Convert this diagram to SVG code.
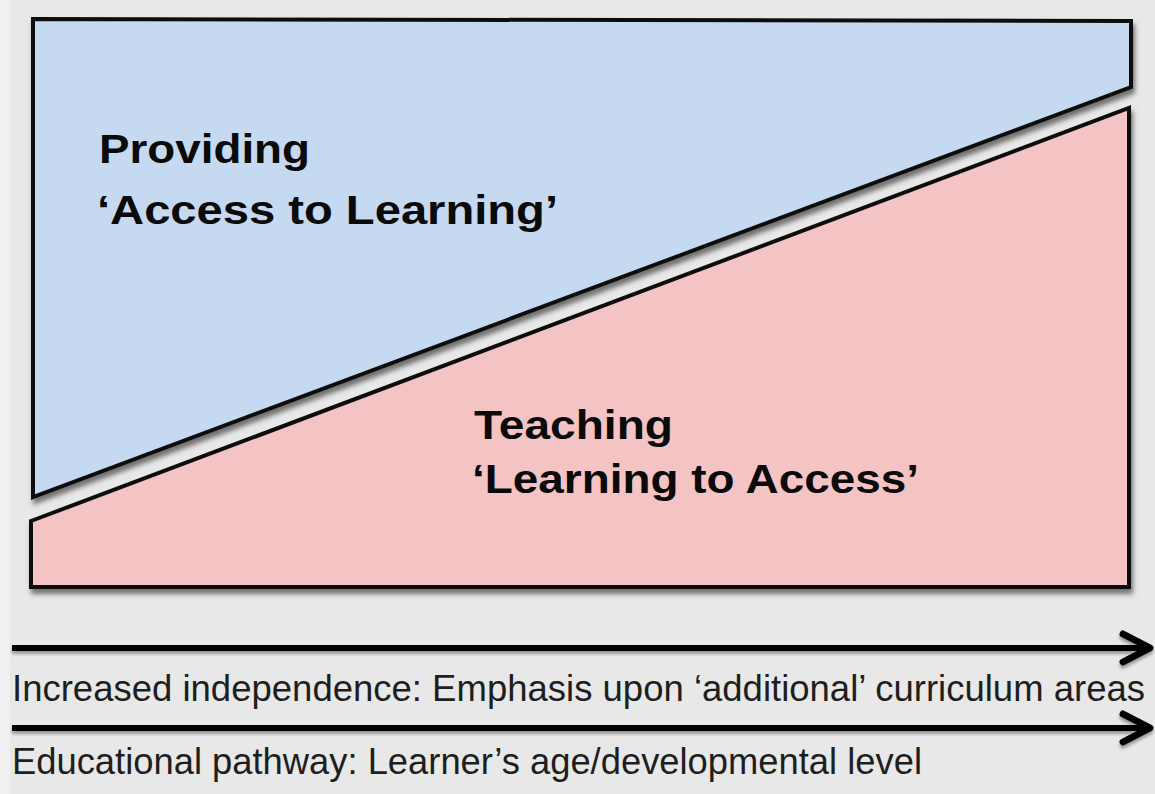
<svg xmlns="http://www.w3.org/2000/svg" width="1155" height="794" viewBox="0 0 1155 794">
  <defs>
    <filter id="shadow" x="-5%" y="-5%" width="110%" height="115%">
      <feDropShadow dx="2" dy="5" stdDeviation="2.5" flood-color="#4a4a4a" flood-opacity="0.75"/>
    </filter>
    <filter id="lineShadow" filterUnits="userSpaceOnUse" x="0" y="600" width="1155" height="194">
      <feDropShadow dx="0" dy="3" stdDeviation="1.5" flood-color="#666" flood-opacity="0.6"/>
    </filter>
  </defs>
  <style>
    .panel { stroke: #111; stroke-width: 4; stroke-linejoin: miter; filter: url(#shadow); }
    .title { font-family: "Liberation Sans", Arial, sans-serif; font-weight: bold; font-size: 40px; fill: #0a0a0a; }
    .caption { font-family: "Liberation Sans", Arial, sans-serif; font-size: 36px; fill: #1e1e1e; }
    .shaft { stroke: #000; stroke-width: 6; fill: none; }
    .head { stroke: #000; stroke-width: 7; fill: none; stroke-linecap: round; stroke-linejoin: round; }
  </style>

  <rect width="1155" height="794" fill="#e8e8e8"/>
  <rect width="10" height="794" fill="#f0f0f0"/>

  <!-- upper wedge: providing access -->
  <g id="providing">
    <polygon class="panel" points="33,19 1131,21 1131,87 33,497" fill="#c5d9f1"/>
    <text class="title" x="99" y="163" textLength="211" lengthAdjust="spacingAndGlyphs">Providing</text>
    <text class="title" x="97" y="224" textLength="461" lengthAdjust="spacingAndGlyphs">‘Access to Learning’</text>
  </g>

  <!-- lower wedge: teaching learning -->
  <g id="teaching">
    <polygon class="panel" points="31,521 1129,108 1129,587 31,587" fill="#f4c4c4"/>
    <text class="title" x="474" y="439" textLength="199" lengthAdjust="spacingAndGlyphs">Teaching</text>
    <text class="title" x="472" y="493" textLength="447" lengthAdjust="spacingAndGlyphs">‘Learning to Access’</text>
  </g>

  <!-- progression arrows -->
  <g id="connectors" filter="url(#lineShadow)">
    <path class="shaft" d="M12,648 H1148"/>
    <polyline class="head" points="1123,634 1150,648 1123,662"/>
    <path class="shaft" d="M12,728 H1148"/>
    <polyline class="head" points="1123,714 1150,728 1123,742"/>
  </g>

  <g id="labels">
    <text class="caption" x="12" y="701" textLength="1133" lengthAdjust="spacingAndGlyphs">Increased independence: Emphasis upon ‘additional’ curriculum areas</text>
    <text class="caption" x="12" y="774" textLength="910" lengthAdjust="spacingAndGlyphs">Educational pathway: Learner’s age/developmental level</text>
  </g>
</svg>
